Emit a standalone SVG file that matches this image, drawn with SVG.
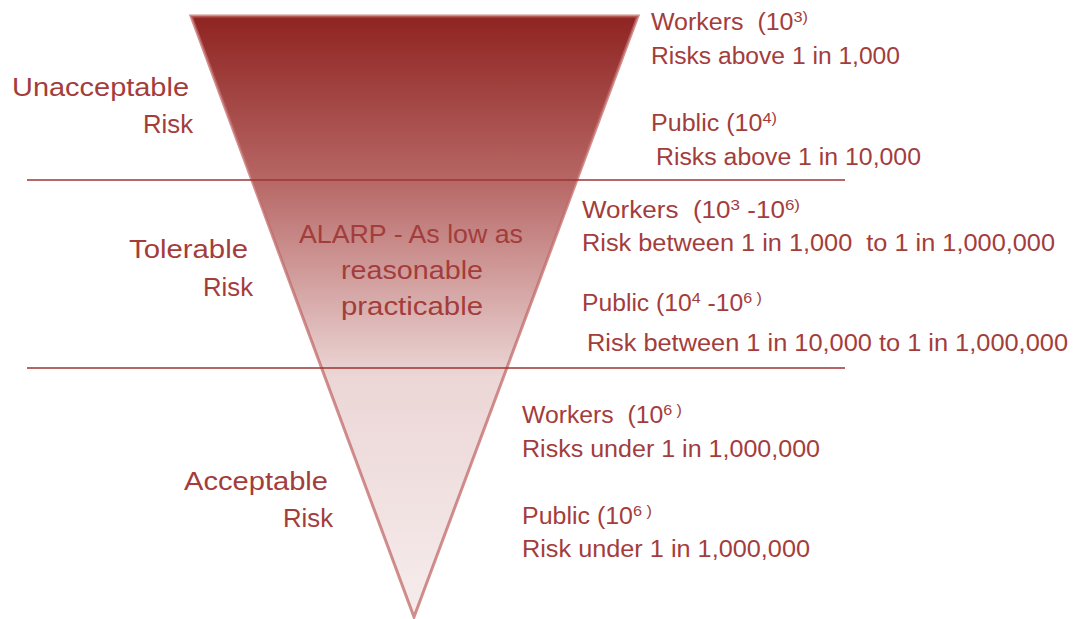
<svg xmlns="http://www.w3.org/2000/svg" width="1077" height="619" viewBox="0 0 1077 619" xml:space="preserve">
<style>
text{font-family:"Liberation Sans",Arial,sans-serif;font-size:23px;fill:#a33d3c;white-space:pre}
.big{font-size:25px}
.sup{font-size:15px}
.div{stroke:#9e3331;stroke-width:1.5}
</style>
<defs>
<linearGradient id="g" x1="0" y1="16" x2="0" y2="617" gradientUnits="userSpaceOnUse">
<stop offset="0" stop-color="#8f2421"/>
<stop offset="0.27" stop-color="#b66664"/>
<stop offset="0.6" stop-color="#ecd6d6"/>
<stop offset="1" stop-color="#f6ecec"/>
</linearGradient>
</defs>
<rect width="1077" height="619" fill="#ffffff"/>
<g id="triangle">
<polygon points="191,16 638,16 414,617" fill="url(#g)" stroke="#c06a68" stroke-opacity="0.75" stroke-width="3"/>
</g>
<g id="connectors">
<line class="div" x1="27" y1="180" x2="845" y2="180"/>
<line class="div" x1="27" y1="368" x2="845" y2="368"/>
</g>
<g id="unacceptable">
<text class="big" x="12" y="96" textLength="177" lengthAdjust="spacingAndGlyphs">Unacceptable</text>
<text class="big" x="143" y="133" textLength="50" lengthAdjust="spacingAndGlyphs">Risk</text>
</g>
<g id="tolerable">
<text class="big" x="129" y="258" textLength="119" lengthAdjust="spacingAndGlyphs">Tolerable</text>
<text class="big" x="203" y="296" textLength="50" lengthAdjust="spacingAndGlyphs">Risk</text>
</g>
<g id="acceptable">
<text class="big" x="184" y="490" textLength="144" lengthAdjust="spacingAndGlyphs">Acceptable</text>
<text class="big" x="283" y="527" textLength="50" lengthAdjust="spacingAndGlyphs">Risk</text>
</g>
<g id="alarp">
<text class="big" x="299" y="243" textLength="224" lengthAdjust="spacingAndGlyphs">ALARP - As low as</text>
<text class="big" x="341" y="279" textLength="142" lengthAdjust="spacingAndGlyphs">reasonable</text>
<text class="big" x="341" y="315" textLength="142" lengthAdjust="spacingAndGlyphs">practicable</text>
</g>
<g id="unacceptable-detail">
<text x="651" y="30" textLength="157" lengthAdjust="spacingAndGlyphs">Workers  (10<tspan class="sup" dy="-8">3)</tspan></text>
<text x="651" y="64" textLength="249" lengthAdjust="spacingAndGlyphs">Risks above 1 in 1,000</text>
<text x="651" y="131" textLength="126" lengthAdjust="spacingAndGlyphs">Public (10<tspan class="sup" dy="-8">4)</tspan></text>
<text x="656" y="165" textLength="265" lengthAdjust="spacingAndGlyphs">Risks above 1 in 10,000</text>
</g>
<g id="tolerable-detail">
<text x="582" y="218" textLength="218" lengthAdjust="spacingAndGlyphs">Workers  (10<tspan class="sup" dy="-8">3</tspan><tspan dy="8"> -10</tspan><tspan class="sup" dy="-8">6)</tspan></text>
<text x="582" y="251" textLength="473" lengthAdjust="spacingAndGlyphs">Risk between 1 in 1,000  to 1 in 1,000,000</text>
<text x="582" y="311" textLength="180" lengthAdjust="spacingAndGlyphs">Public (10<tspan class="sup" dy="-8">4</tspan><tspan dy="8"> -10</tspan><tspan class="sup" dy="-8">6 )</tspan></text>
<text x="587" y="351" textLength="481" lengthAdjust="spacingAndGlyphs">Risk between 1 in 10,000 to 1 in 1,000,000</text>
</g>
<g id="acceptable-detail">
<text x="522" y="423" textLength="160" lengthAdjust="spacingAndGlyphs">Workers  (10<tspan class="sup" dy="-8">6 )</tspan></text>
<text x="522" y="457" textLength="298" lengthAdjust="spacingAndGlyphs">Risks under 1 in 1,000,000</text>
<text x="522" y="524" textLength="130" lengthAdjust="spacingAndGlyphs">Public (10<tspan class="sup" dy="-8">6 )</tspan></text>
<text x="522" y="557" textLength="288" lengthAdjust="spacingAndGlyphs">Risk under 1 in 1,000,000</text>
</g>
</svg>
